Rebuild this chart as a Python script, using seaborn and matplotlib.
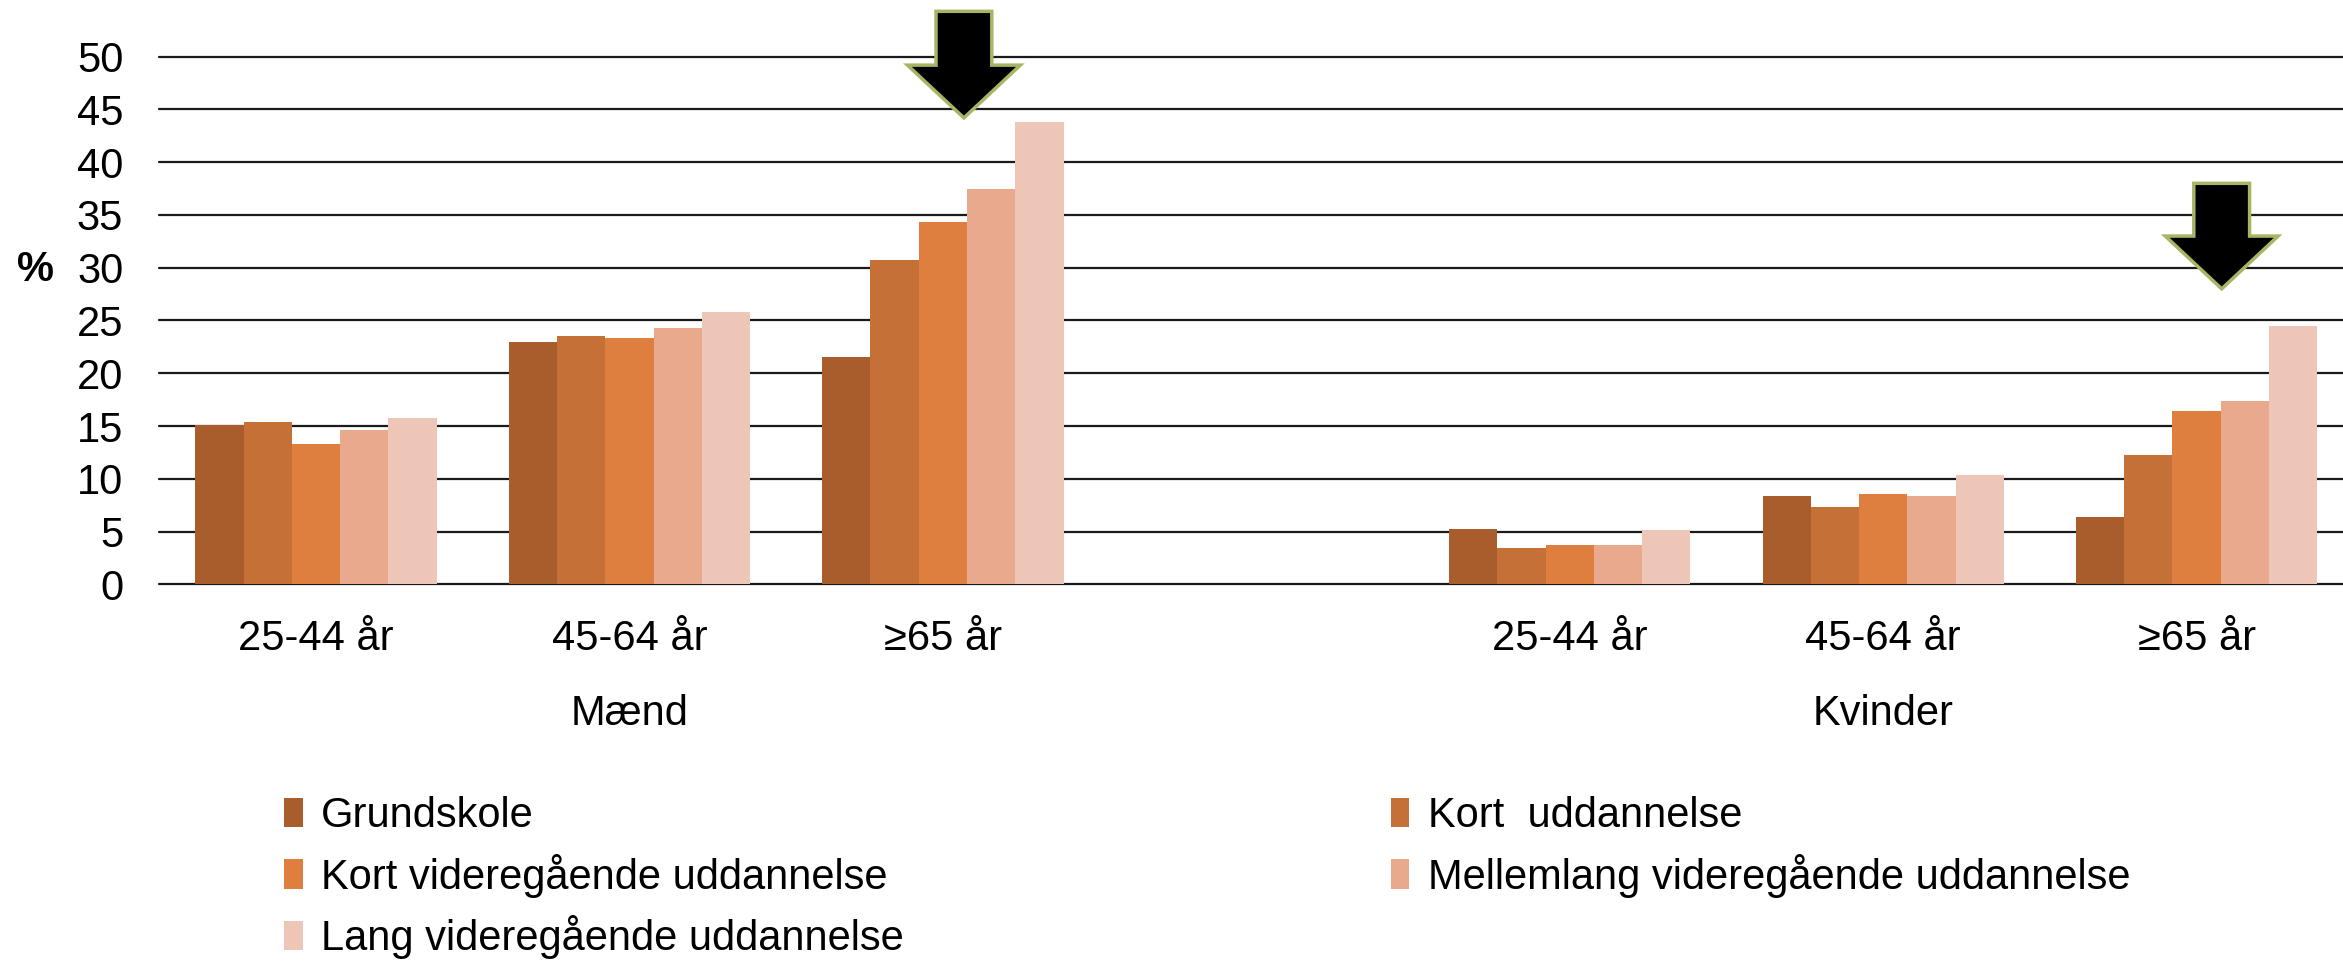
import matplotlib
matplotlib.use("Agg")
import matplotlib.pyplot as plt
import matplotlib.transforms as mtransforms
from matplotlib.patches import FancyArrow
import numpy as np
import pandas as pd
import seaborn as sns

# slots on the x axis; "gap" is the empty slot between the two sexes
slots = ["M1", "M2", "M3", "gap", "K1", "K2", "K3"]
slot_labels = ["25-44 år", "45-64 år", "≥65 år", "", "25-44 år", "45-64 år", "≥65 år"]
sex_labels = ["Mænd", "Kvinder"]
sex_centers = [1, 5]

educations = [
    "Grundskole",
    "Kort  uddannelse",
    "Kort videregående uddannelse",
    "Mellemlang videregående uddannelse",
    "Lang videregående uddannelse",
]
colors = ["#A95D2D", "#C57036", "#DF7F3F", "#E8A98D", "#EEC6B8"]

grundskole = [15.1, 23.0, 21.5, 5.2, 8.4, 6.4]
kort_udd = [15.4, 23.5, 30.7, 3.4, 7.3, 12.3]
kvu = [13.3, 23.3, 34.3, 3.7, 8.6, 16.4]
mvu = [14.6, 24.3, 37.5, 3.7, 8.4, 17.4]
lvu = [15.8, 25.8, 43.8, 5.1, 10.4, 24.5]

# arrows: (x centre, top, head base, tip)
arrow_x = [2.067, 6.08]
arrow_top = [54.3, 38.0]
arrow_head_base = [49.2, 33.0]
arrow_tip = [44.2, 28.0]

rows = []
data_slots = [s for s in slots if s != "gap"]
for edu, vals in zip(educations, [grundskole, kort_udd, kvu, mvu, lvu]):
    for s, v in zip(data_slots, vals):
        rows.append({"slot": s, "edu": edu, "value": v})
df = pd.DataFrame(rows)

sns.set_style("white")
plt.rcParams["font.family"] = ["Liberation Sans", "DejaVu Sans"]
plt.rcParams["text.color"] = "black"
plt.rcParams["xtick.color"] = "black"
plt.rcParams["ytick.color"] = "black"

fs = 30

fig = plt.figure(figsize=(23.43, 9.61), dpi=100)
ax = fig.add_axes([0.068, 0.392, 0.932, 0.549])

sns.barplot(
    data=df, x="slot", y="value", hue="edu", order=slots, hue_order=educations,
    palette=colors, errorbar=None, width=0.77, gap=0, ax=ax, zorder=3,
    linewidth=0, saturation=1,
)

ax.set_ylim(0, 50)
ax.set_xlim(-0.5, 6.467)
ax.set_yticks(np.arange(0, 51, 5))
ax.yaxis.grid(True, color="#1a1a1a", linewidth=1.6, zorder=0)
for gl in ax.get_ygridlines():
    gl.set_clip_on(False)
ax.set_axisbelow(True)
for sp in ax.spines.values():
    sp.set_visible(False)
ax.tick_params(axis="y", labelsize=fs, length=0, pad=26)
ax.tick_params(axis="x", labelsize=fs, length=0, pad=25)
ax.set_xticks(range(len(slots)))
ax.set_xticklabels(slot_labels)
ax.set_xlabel("")
ax.set_ylabel("")

trans = mtransforms.blended_transform_factory(ax.transData, fig.transFigure)
for lab, c in zip(sex_labels, sex_centers):
    ax.text(c, 0.257, lab, transform=trans, ha="center", va="center", fontsize=fs)

fig.text(0.015, 0.719, "%", fontsize=fs, fontweight="bold", ha="center", va="center")

for x, top, hb, tip in zip(arrow_x, arrow_top, arrow_head_base, arrow_tip):
    arr = FancyArrow(
        x, top, 0, tip - top, width=0.178, head_width=0.36, head_length=hb - tip,
        length_includes_head=True, facecolor="black", edgecolor="#A8B564",
        linewidth=2.5, clip_on=False, zorder=5,
    )
    ax.add_patch(arr)

handles, labels = ax.get_legend_handles_labels()
order = [0, 2, 4, 1, 3]
ax.legend(
    [handles[i] for i in order], [labels[i] for i in order],
    loc="upper left", bbox_to_anchor=(0.114, 0.189), bbox_transform=fig.transFigure,
    ncol=2, frameon=False, fontsize=fs, handlelength=0.45, handleheight=0.7,
    handletextpad=0.45, columnspacing=11.68, labelspacing=0.42, borderaxespad=0,
)

fig.savefig("out.png", dpi=100)
